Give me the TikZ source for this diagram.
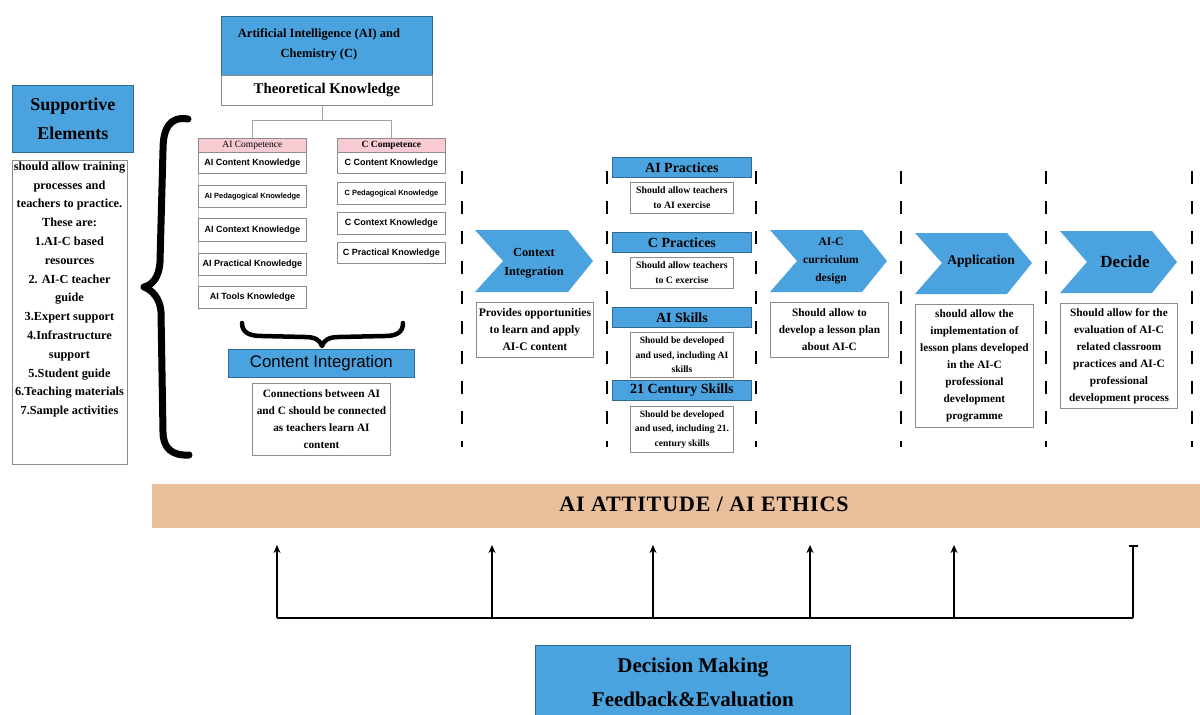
\documentclass[tikz,border=0pt]{standalone}
\usepackage{fontspec}
\setmainfont{Liberation Serif}
\setsansfont{Liberation Sans}
\usetikzlibrary{arrows.meta}
\definecolor{bl}{HTML}{4AA3DF}
\definecolor{pk}{HTML}{F8CBD3}
\definecolor{orng}{HTML}{EABF9C}
\definecolor{gr}{HTML}{8C8C8C}
\newcommand\fs[2]{\fontsize{#1}{#2}\selectfont}
\tikzset{
  box/.style={draw=gr, line width=0.9pt, fill=white, inner sep=1pt, anchor=north west, align=center, font=\bfseries},
  bluebox/.style={draw=bl!65!black, line width=0.8pt, fill=bl, inner sep=1pt, anchor=north west, align=center, font=\bfseries},
  pinkbox/.style={draw=gr, line width=0.8pt, fill=pk, inner sep=0pt, anchor=north west, align=center},
  item/.style={box, font=\sffamily\bfseries\fs{9}{10}, minimum width=108pt},
  chevtext/.style={align=center, font=\bfseries},
  chev/.style={fill=bl},
  tree/.style={draw=gr!80, line width=0.9pt},
  dashline/.style={line width=2.6pt, dash pattern=on 13pt off 17pt},
  conn/.style={line width=2.2pt, black},
}
\begin{document}
\begin{tikzpicture}[x=1pt,y=-1pt]
\useasboundingbox (0,0) rectangle (1200,715);
\fill[white] (0,0) rectangle (1200,715);

% ---- Top theoretical knowledge
\node[bluebox, minimum width=211pt, minimum height=59pt] (aic) at (221,16) {};
\node[align=center, font=\bfseries\fs{12.5}{20}, inner sep=0pt] (aictext) at (319,44) {Artificial Intelligence (AI) and\\Chemistry (C)};
\node[box, minimum width=211pt, minimum height=30pt, font=\bfseries\fs{14.8}{16}] (tk) at (221,75) {Theoretical Knowledge};

\node[pinkbox, minimum width=108pt, minimum height=14pt, font=\fs{9.5}{10}] (aih) at (198,138) {AI Competence};
\node[pinkbox, minimum width=108pt, minimum height=14pt, font=\bfseries\fs{9.5}{10}] (ch) at (337,138) {C Competence};

\coordinate (tj) at (322,120);
\draw[tree] (322,105) -- (tj);
\draw[tree] (tj) -| (aih.north);
\draw[tree] (tj) -| (ch.north);

\draw[draw=gr!50, line width=0.7pt] (198,152) -- (198,310);
\node[item, minimum height=21pt] (ai1) at (198,152) {AI Content Knowledge};
\node[item, minimum height=22pt, font=\sffamily\bfseries\fs{7.5}{9}] (ai2) at (198,185) {AI Pedagogical Knowledge};
\node[item, minimum height=23pt] (ai3) at (198,218) {AI Context Knowledge};
\node[item, minimum height=22pt] (ai4) at (198,253) {AI Practical Knowledge};
\node[item, minimum height=22pt] (ai5) at (198,286) {AI Tools Knowledge};

\node[item, minimum height=21pt] (c1) at (337,152) {C Content Knowledge};
\node[item, minimum height=22pt, font=\sffamily\bfseries\fs{7.5}{9}] (c2) at (337,182) {C Pedagogical Knowledge};
\node[item, minimum height=22pt] (c3) at (337,212) {C Context Knowledge};
\node[item, minimum height=21pt] (c4) at (337,242) {C Practical Knowledge};

% ---- Supportive elements
\node[bluebox, minimum width=121pt, minimum height=67pt, font=\bfseries\fs{18}{29}] (sup) at (12,85) {Supportive\\Elements};
\node[box, minimum width=115pt, minimum height=304pt] (supbox) at (12,160) {};
\node[anchor=north, align=center, inner sep=0pt, font=\bfseries\fs{12.3}{18.8}] (suptext) at (69.5,161.5) {should allow training\\processes and\\teachers to practice.\\These are:\\1.AI-C based\\resources\\2. AI-C teacher\\guide\\3.Expert support\\4.Infrastructure\\support\\5.Student guide\\6.Teaching materials\\7.Sample activities};

% big brace
\draw[line width=7pt, line cap=round, line join=round] (188,119) .. controls (170,116) and (163,128) .. (163,150) -- (160,262) .. controls (159,278) and (152,285) .. (144,287) .. controls (152,290) and (160,298) .. (161,312) -- (163,432) .. controls (163,448) and (172,456) .. (189,455);

% small brace
\draw[line width=4.5pt, line cap=round, line join=round] (242,323) .. controls (242,333) and (250,336) .. (262,336) -- (305,337) .. controls (315,337) and (320,340) .. (322,346) .. controls (324,340) and (329,337) .. (339,337) -- (385,336) .. controls (397,336) and (403,332) .. (403,323);

% ---- Content integration
\node[bluebox, minimum width=186pt, minimum height=28pt, font=\sffamily\fs{16.8}{18}] (ci) at (228,349) {Content Integration};
\node[box, minimum width=138pt, minimum height=72pt, font=\bfseries\fs{11.3}{17}] (citext) at (252,383) {Connections between AI\\and C should be connected\\as teachers learn AI\\content};

% ---- dashed dividers
\foreach \x in {462,607,756,901,1046,1192}{
  \draw[dashline] (\x,171) -- (\x,447);
}

% ---- Chevrons
\fill[chev] (475,230) -- (568,230) -- (593,261) -- (568,292) -- (475,292) -- (503,261) -- cycle;
\node[chevtext, font=\bfseries\fs{12.3}{19}] (ctx) at (534,263) {Context\\Integration};
\node[box, minimum width=117pt, minimum height=55pt, font=\bfseries\fs{11.6}{17}] (ctxtext) at (476,302) {Provides opportunities\\to learn and apply\\AI-C content};

\fill[chev] (770,230) -- (862,230) -- (887,261) -- (862,292) -- (770,292) -- (797,261) -- cycle;
\node[chevtext, font=\bfseries\fs{11.5}{18}] (cur) at (831,261) {AI-C\\curriculum\\design};
\node[box, minimum width=118pt, minimum height=55pt, font=\bfseries\fs{11.3}{17}] (curtext) at (770,302) {Should allow to\\develop a lesson plan\\about AI-C};

\fill[chev] (915,233) -- (1007,233) -- (1032,263) -- (1007,294) -- (915,294) -- (942,263) -- cycle;
\node[chevtext, font=\bfseries\fs{13.5}{16}] (app) at (981,261) {Application};
\node[box, minimum width=118pt, minimum height=123pt, font=\bfseries\fs{11.3}{17}] (apptext) at (915,304) {should allow the\\implementation of\\lesson plans developed\\in the AI-C\\professional\\development\\programme};

\fill[chev] (1060,231) -- (1152,231) -- (1177,262) -- (1152,293) -- (1060,293) -- (1087,262) -- cycle;
\node[chevtext, font=\bfseries\fs{17}{19}] (dec) at (1125,262) {Decide};
\node[box, minimum width=117pt, minimum height=105pt, font=\bfseries\fs{11.3}{17}] (dectext) at (1060,303) {Should allow for the\\evaluation of AI-C\\related classroom\\practices and AI-C\\professional\\development process};

% ---- practices / skills column
\node[bluebox, minimum width=139pt, minimum height=20pt, font=\bfseries\fs{14}{15}] (aip) at (612,157) {AI Practices};
\node[box, minimum width=103pt, minimum height=31pt, font=\bfseries\fs{9.8}{15}] (aiptext) at (630,182) {Should allow teachers\\to AI exercise};
\node[bluebox, minimum width=139pt, minimum height=20pt, font=\bfseries\fs{14}{15}] (cp) at (612,232) {C Practices};
\node[box, minimum width=103pt, minimum height=31pt, font=\bfseries\fs{9.8}{15}] (cptext) at (630,257) {Should allow teachers\\to C exercise};
\node[bluebox, minimum width=139pt, minimum height=20pt, font=\bfseries\fs{14}{15}] (ais) at (612,307) {AI Skills};
\node[box, minimum width=103pt, minimum height=45pt, font=\bfseries\fs{9.6}{14.5}] (aistext) at (630,332) {Should be developed\\and used, including AI\\skills};
\node[bluebox, minimum width=139pt, minimum height=20pt, font=\bfseries\fs{14}{15}] (cs) at (612,380) {21 Century Skills};
\node[box, minimum width=103pt, minimum height=46pt, font=\bfseries\fs{9.6}{14.5}] (cstext) at (630,406) {Should be developed\\and used, including 21.\\century skills};

% ---- AI attitude / ethics bar
\node[fill=orng, minimum width=1048pt, minimum height=44pt, inner sep=0pt, anchor=north west] (eth) at (152,484) {};
\node[inner sep=0pt, font=\bfseries\fs{22}{23}\addfontfeatures{LetterSpace=4}] (ethtext) at (704,504) {AI ATTITUDE / AI ETHICS};

% ---- feedback arrows
\foreach \i/\x in {1/277,2/492,3/653,4/810,5/954,6/1133}{
  \coordinate (a\i) at (\x,618);
  \coordinate (t\i) at (\x,545);
}
\draw[conn] (a1) -- (a6);
\foreach \i in {1,...,5}{
  \draw[conn, -{Stealth[length=8pt,width=7pt]}] (a\i) -- (t\i);
}
\draw[conn, -{Bar[width=9pt]}] (a6) -- (t6);

% ---- decision making
\node[bluebox, minimum width=315pt, minimum height=74pt, font=\bfseries\fs{21}{34}] (dm) at (535,645) {Decision Making\\Feedback\&Evaluation};
\end{tikzpicture}
\end{document}
